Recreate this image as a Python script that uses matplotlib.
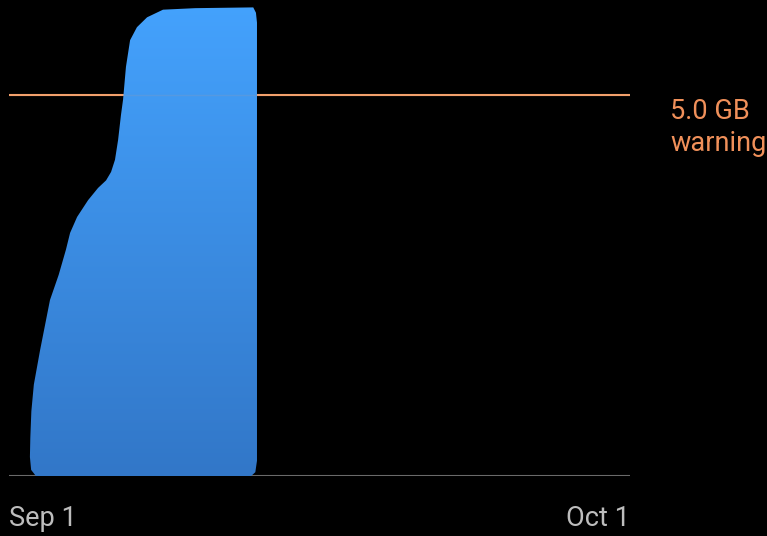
import numpy as np
import matplotlib
matplotlib.use("Agg")
import matplotlib.pyplot as plt
from matplotlib.colors import LinearSegmentedColormap

# outline of the usage area: day of month (0 = Sep 1) and GB used
outline_day = [1.30, 11.70, 11.90, 11.98, 11.98, 11.93, 11.80, 9.00, 7.44, 6.67,
               6.18, 5.85, 5.65, 5.51, 5.41, 5.27, 5.12, 4.93, 4.69, 4.30,
               3.82, 3.29, 2.95, 2.75, 2.40, 1.98, 1.50, 1.20, 1.08, 1.03,
               1.01, 1.07, 1.30]
outline_gb = [0.00, 0.00, 0.05, 0.20, 5.95, 6.08, 6.15, 6.14, 6.12, 6.02,
              5.89, 5.72, 5.37, 4.94, 4.74, 4.41, 4.15, 3.99, 3.88, 3.78,
              3.62, 3.40, 3.19, 2.97, 2.64, 2.31, 1.65, 1.20, 0.85, 0.50,
              0.25, 0.08, 0.00]

warning_gb = 5.0
warning_label = "5.0 GB\nwarning"
tick_pos = [0, 30]
tick_labels = ["Sep 1", "Oct 1"]

plt.rcParams['font.family'] = ['Roboto', 'DejaVu Sans']

fig = plt.figure(figsize=(7.67, 5.36), dpi=100, facecolor='black')
ax = fig.add_axes([9 / 767, 60 / 536, 621 / 767, 476 / 536])
ax.set_facecolor('black')
for s in ax.spines.values():
    s.set_visible(False)
ax.set_yticks([])
ax.set_xticks([])

# baseline and warning line
ax.axhline(0, color='#6a6a6a', lw=1.5, zorder=1)
ax.axhline(warning_gb, color='#f2a06c', lw=1.5, zorder=1)

# area with vertical gradient
poly = ax.fill(outline_day, outline_gb, color='none', zorder=2)[0]
cmap = LinearSegmentedColormap.from_list('g', ['#3277c8', '#44a2fd'])
grad = np.linspace(0, 1, 256).reshape(-1, 1)
im = ax.imshow(grad, cmap=cmap, origin='lower', aspect='auto',
               extent=[0, 30, 0, 6.2], zorder=2)
im.set_clip_path(poly)
ax.set_xlim(0, 30)
ax.set_ylim(0, 6.247)

# faint line over the area
ax.axhline(warning_gb, color='#f2a06c', lw=1.0, alpha=0.12, zorder=3)

ax.text(30 + 40 / 20.7, 4.57, warning_label, color='#f0905a',
        fontsize=19.5, va='center', ha='left', linespacing=1.22,
        clip_on=False)

ax.text(tick_pos[0], -0.56, tick_labels[0], color='#bdbdbd', fontsize=19.5,
        ha='left', va='center', clip_on=False)
ax.text(tick_pos[1], -0.56, tick_labels[1], color='#bdbdbd', fontsize=19.5,
        ha='right', va='center', clip_on=False)

fig.savefig('out.png', dpi=100, facecolor='black')
